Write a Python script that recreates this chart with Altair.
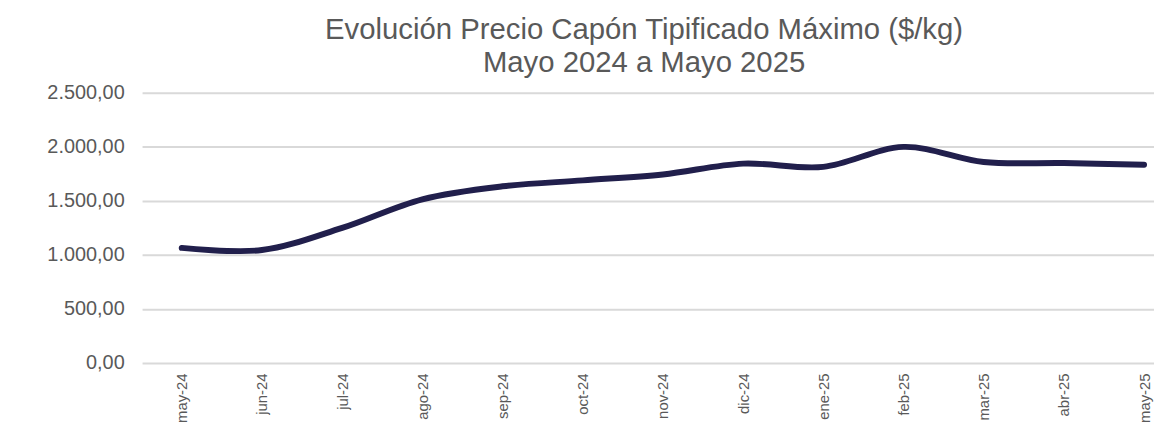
import altair as alt
import pandas as pd

months = ["may-24", "jun-24", "jul-24", "ago-24", "sep-24", "oct-24", "nov-24",
          "dic-24", "ene-25", "feb-25", "mar-25", "abr-25", "may-25"]
prices = [1065, 1045, 1250, 1515, 1635, 1690, 1745, 1845, 1815, 2000, 1860, 1850, 1835]
y_ticks = [0, 500, 1000, 1500, 2000, 2500]

df = pd.DataFrame({"idx": list(range(len(months))), "mes": months, "precio": prices})

label_list = "[" + ",".join("'" + m + "'" for m in months) + "]"

chart = alt.Chart(df).mark_line(
    interpolate="catmull-rom", color="#211f4c", strokeWidth=6, strokeCap="round"
).encode(
    x=alt.X("idx:Q",
            scale=alt.Scale(domain=[-0.495, 12.124], nice=False, zero=False),
            axis=alt.Axis(values=list(range(len(months))), labelExpr=label_list + "[datum.value]",
                          labelAngle=-90, labelAlign="right", labelBaseline="middle",
                          labelFontSize=15, labelColor="#595959", labelFont="Liberation Sans",
                          labelPadding=10, tickSize=0, domain=False, grid=False, title=None)),
    y=alt.Y("precio:Q",
            scale=alt.Scale(domain=[0, 2500], nice=False),
            axis=alt.Axis(values=y_ticks,
                          labelExpr="replace(replace(replace(format(datum.value, ',.2f'), ',', 'X'), '.', ','), 'X', '.')",
                          labelFontSize=20, labelColor="#595959", labelFont="Liberation Sans",
                          labelPadding=18, tickSize=0, domain=False,
                          grid=True, gridColor="#d9d9d9", gridWidth=2, title=None)),
).properties(
    width=1019,
    height=272,
    autosize=alt.AutoSizeParams(type="none"),
    padding={"left": 135, "top": 84, "right": 0, "bottom": 61},
    title=alt.TitleParams(
        text=["Evolución  Precio Capón Tipificado Máximo ($/kg)", "Mayo 2024 a Mayo 2025"],
        font="Liberation Sans", fontSize=29.5, fontWeight="normal", color="#595959",
        lineHeight=34, anchor="middle", offset=4, dx=-4),
).configure_view(stroke=None)

chart.save("out.html", embed_options={"renderer": "svg", "actions": False})
